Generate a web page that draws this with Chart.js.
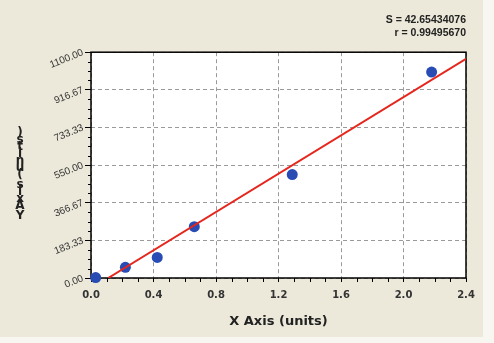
<!DOCTYPE html>
<html><head><meta charset="utf-8">
<script src="https://cdn.jsdelivr.net/npm/chart.js@4"></script>
<style>
html,body{margin:0;padding:0;background:#f7f6f1;}
#wrap{position:absolute;left:0;top:0;width:483px;height:337px;background:#ECE9DA;}
canvas{display:block;}
</style></head><body>
<div id="wrap"><canvas id="c" width="483" height="337"></canvas></div>
<script>
// ---- data ----
const pointX = [0.03, 0.22, 0.424, 0.661, 1.288, 2.18];
const pointY = [2, 52, 100, 250, 504, 1003];
const fitX = [0.11, 2.4];
const fitY = [0, 1068];
const xTickValues = [0, 0.4, 0.8, 1.2, 1.6, 2.0, 2.4];
const xTickLabels = ['0.0', '0.4', '0.8', '1.2', '1.6', '2.0', '2.4'];
const xMinorValues = [0.1,0.2,0.3,0.5,0.6,0.7,0.9,1.0,1.1,1.3,1.4,1.5,1.7,1.8,1.9,2.1,2.2,2.3];
const yTickValues = [0, 183.33, 366.67, 550, 733.33, 916.67, 1100];
const yTickLabels = ['0.00', '183.33', '366.67', '550.00', '733.33', '916.67', '1100.00'];
const yMinorValues = [45.83,91.67,137.5,229.17,275,320.83,412.5,458.33,504.17,595.83,641.67,687.5,779.17,825,870.83,962.5,1008.33,1054.17];
const statLines = ['S = 42.65434076', 'r = 0.99495670'];
const xTitle = 'X Axis (units)';
const yTitle = 'Y Axis (units)';

const framePlugin = {
  id: 'frame',
  beforeDraw(chart) {
    const {ctx, chartArea: a} = chart;
    ctx.save();
    ctx.fillStyle = '#ffffff';
    ctx.fillRect(a.left, a.top, a.right - a.left, a.bottom - a.top);
    ctx.restore();
  },
  beforeDatasetsDraw(chart) {
    const {ctx, chartArea: a, scales} = chart;
    ctx.save();
    ctx.strokeStyle = '#000';
    ctx.lineWidth = 1.5;
    ctx.strokeRect(a.left, a.top, a.right - a.left, a.bottom - a.top);
    ctx.lineWidth = 1;
    ctx.beginPath();
    xMinorValues.forEach(v => {
      const px = Math.round(scales.x.getPixelForValue(v)) + 0.5;
      ctx.moveTo(px, a.bottom);
      ctx.lineTo(px, a.bottom + 4);
    });
    yMinorValues.forEach(v => {
      const py = Math.round(scales.y.getPixelForValue(v)) + 0.5;
      ctx.moveTo(a.left - 3, py);
      ctx.lineTo(a.left, py);
    });
    ctx.stroke();
    ctx.restore();
  },
  afterDraw(chart) {
    const {ctx} = chart;
    ctx.save();
    ctx.fillStyle = '#222';
    ctx.font = 'bold 12px "DejaVu Sans"';
    ctx.textAlign = 'center';
    ctx.textBaseline = 'middle';
    let y = 216;
    for (const ch of yTitle) {
      if (ch === ' ') { y -= 3; continue; }
      ctx.fillText(ch, 20, y);
      y -= 7;
    }
    ctx.restore();
  }
};

new Chart(document.getElementById('c'), {
  type: 'scatter',
  data: {
    datasets: [
      {
        type: 'line',
        data: fitX.map((x, i) => ({x, y: fitY[i]})),
        borderColor: '#E5261C',
        borderWidth: 2,
        pointRadius: 0,
        fill: false
      },
      {
        data: pointX.map((x, i) => ({x, y: pointY[i]})),
        backgroundColor: '#284CB3',
        borderWidth: 0,
        pointRadius: 5.5,
        clip: false
      }
    ]
  },
  options: {
    responsive: false,
    animation: false,
    layout: {padding: {top: 14, right: 17, left: 0, bottom: 0}},
    plugins: {
      legend: {display: false},
      tooltip: {enabled: false},
      title: {
        display: true,
        text: statLines,
        align: 'end',
        fullSize: false,
        color: '#222',
        font: {family: '"Liberation Sans"', weight: 'bold', size: 10.5, lineHeight: 1.2},
        padding: {top: 0, bottom: 13}
      }
    },
    scales: {
      x: {
        type: 'linear',
        min: 0, max: 2.4,
        afterBuildTicks: s => { s.ticks = xTickValues.map(v => ({value: v})); },
        afterFit: s => { s.height = 59; },
        ticks: {
          autoSkip: false, maxRotation: 0,
          callback: (v, i) => xTickLabels[i],
          color: '#333',
          font: {family: '"DejaVu Sans"', weight: 'bold', size: 10},
          padding: 7
        },
        grid: {color: '#9a9a9a', lineWidth: 1, tickColor: '#000', tickWidth: 1, tickLength: 4},
        border: {display: false, dash: [4, 3]},
        title: {
          display: true, text: xTitle, color: '#222',
          font: {family: '"DejaVu Sans"', weight: 'bold', size: 13},
          padding: {top: 8, bottom: 8}
        }
      },
      y: {
        type: 'linear',
        min: 0, max: 1100,
        afterBuildTicks: s => { s.ticks = yTickValues.map(v => ({value: v})); },
        afterFit: s => { s.width = 91; },
        ticks: {
          autoSkip: false, minRotation: 22, maxRotation: 22,
          callback: (v, i) => yTickLabels[i],
          color: '#333',
          font: {family: '"Liberation Sans"', size: 10},
          padding: 2
        },
        grid: {color: '#9a9a9a', lineWidth: 1, tickColor: '#000', tickWidth: 1, tickLength: 6},
        border: {display: false, dash: [4, 3]}
      }
    }
  },
  plugins: [framePlugin]
});
</script>
</body></html>
